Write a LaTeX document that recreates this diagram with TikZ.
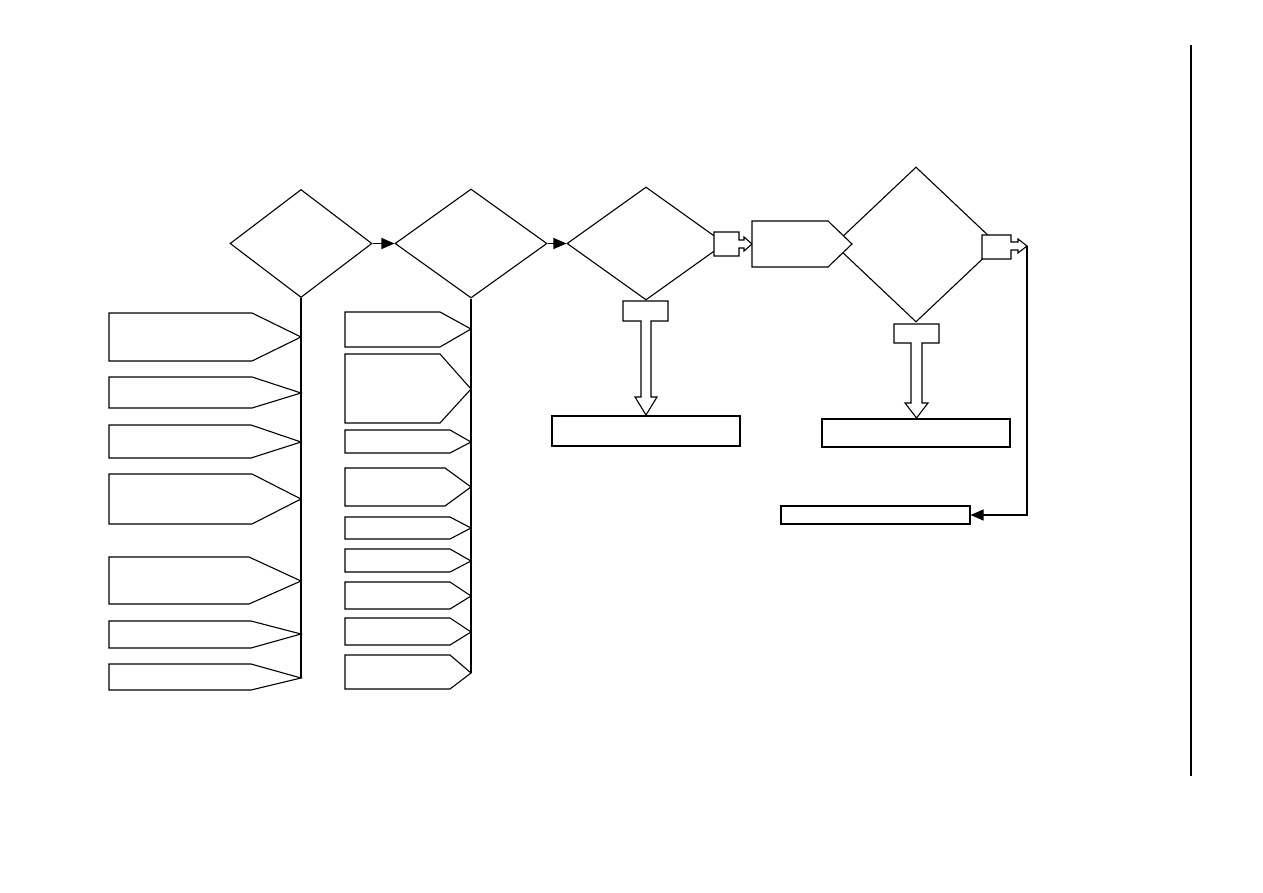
\documentclass[tikz,border=0pt]{standalone}
\usepackage{tikz}
\usetikzlibrary{positioning, shapes.geometric, arrows.meta}
\tikzset{
  % decision step = diamond
  decision/.style={diamond, draw, fill=white, inner sep=0pt,
                   line width=1.1pt},
  % plain outcome box
  outbox/.style={rectangle, draw, fill=white, inner sep=0pt,
                 line width=1.1pt},
  % connector with filled head
  flow/.style={-{Triangle[length=13pt,width=11pt]}, line width=1.1pt},
  % hand-drawn outlines (tags, block arrows)
  shapeline/.style={draw, fill=white, line width=1.1pt, line join=miter},
}
% tag boxes hanging on a spine: left edge, spine x, list of top/bottom/tip-start/tip-y
\newcommand{\tagcolumn}[3]{%
  \foreach \ya/\yb/\xt/\yt in {#3}
    \path[shapeline] (#1,\ya) -- (\xt,\ya) -- (#2,\yt) -- (\xt,\yb)
      -- (#1,\yb) -- cycle;%
}

\begin{document}
\begin{tikzpicture}[x=1pt, y=-1pt, line width=1.1pt]
  \useasboundingbox (0,0) rectangle (1263,893);
  % decisions along the main row
  \node[decision, minimum width=142pt, minimum height=108pt] (d1) at (301,243.5) {};
  \node[decision, minimum width=152pt, minimum height=109pt] (d2) at (471,243.5) {};
  \node[decision, minimum width=158pt, minimum height=113pt] (d3) at (646,243.5) {};
  \node[decision, minimum width=164pt, minimum height=155pt] (d4) at (916,244.5) {};
  \draw[flow] (d1.east) -- (d2.west);
  \draw[flow] (d2.east) -- (d3.west);

  % spines below the first two decisions
  \coordinate (s1end) at (301,678);
  \coordinate (s2end) at (471,673);
  \draw (d1.south) -- (s1end);
  \draw (d2.south) -- (s2end);
  \tagcolumn{109}{301}{313/361/252/337, 377/408/252/393, 425/458/251/442,
                       474/524/252/499, 557/604/249/581, 621/648/251/634,
                       664/690/251/678}
  \tagcolumn{345}{471}{312/347/440/329, 354/423/440/389, 430/453/450/442,
                       468/506/445/487, 517/539/450/528, 549/572/450/561,
                       582/609/450/596, 618/645/450/632, 655/689/450/673}

  % block arrows out of decision 3
  \path[shapeline] (714,232) -- (739,232) -- (739,240) -- (744,240) -- (744,237)
    -- (752,244) -- (744,251) -- (744,248) -- (739,248) -- (739,256)
    -- (714,256) -- cycle;
  \path[shapeline] (623,301) -- (668,301) -- (668,321) -- (651,321) -- (651,397)
    -- (657,397) -- (646,415) -- (635,397) -- (641,397) -- (641,321)
    -- (623,321) -- cycle;
  % pointed box between decision 3 and 4
  \path[shapeline] (752,221) -- (828,221) -- (852,244) -- (828,267)
    -- (752,267) -- cycle;

  % block arrows out of decision 4
  \path[shapeline] (982,235) -- (1011,235) -- (1011,242) -- (1018,242) -- (1018,239)
    -- (1027,246) -- (1018,253) -- (1018,250) -- (1011,250) -- (1011,259)
    -- (982,259) -- cycle;
  \path[shapeline] (894,324) -- (939,324) -- (939,343) -- (922,343) -- (922,403)
    -- (928,403) -- (916.5,418) -- (905,403) -- (911,403) -- (911,343)
    -- (894,343) -- cycle;

  % outcome boxes
  \node[outbox, minimum width=188pt, minimum height=30pt] (outA) at (646,431) {};
  \node[outbox, minimum width=188pt, minimum height=28pt] (outB) at (916,433) {};
  \node[outbox, minimum width=189pt, minimum height=18pt] (outC) at (875.5,515) {};

  % feedback from decision 4
  \coordinate (fb) at (1027,246);
  \draw[flow] (fb) |- (outC.east);

  % margin rule
  \coordinate (rtop) at (1191,45);
  \coordinate (rbot) at (1191,776);
  \draw (rtop) -- (rbot);
\end{tikzpicture}
\end{document}
